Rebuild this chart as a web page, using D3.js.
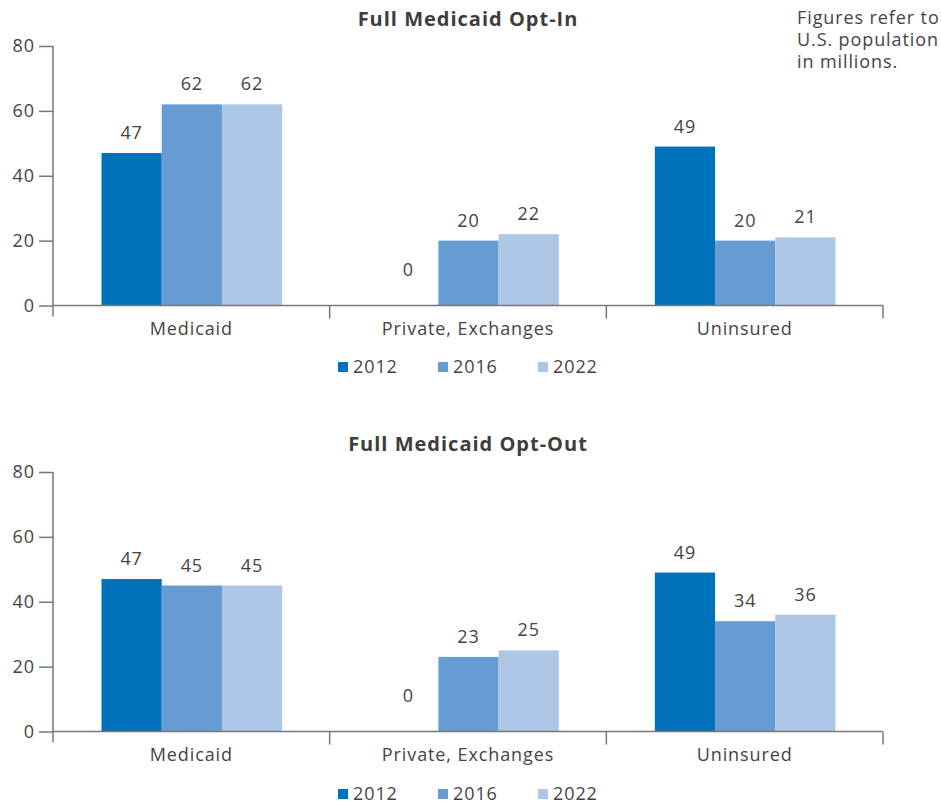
<!DOCTYPE html>
<html>
<head>
<meta charset="utf-8">
<script src="https://cdn.jsdelivr.net/npm/d3@7"></script>
<style>
  body { margin: 0; background: #fff; }
  svg text { font-family: "Open Sans", "Lato", sans-serif; fill: #444; }
</style>
</head>
<body>
<svg id="chart" width="941" height="807"></svg>
<script>
// data
const categories = ["Medicaid", "Private, Exchanges", "Uninsured"];
const years = ["2012", "2016", "2022"];
const colors = ["#0072bc", "#679cd3", "#adc6e6"];
const yTicks = [0, 20, 40, 60, 80];

const optInValues = [
  [47, 62, 62],
  [0, 20, 22],
  [49, 20, 21]
];
const optOutValues = [
  [47, 45, 45],
  [0, 23, 25],
  [49, 34, 36]
];

const panels = [
  { title: "Full Medicaid Opt-In", values: optInValues, top: 46, titleY: 26, legendY: 367 },
  { title: "Full Medicaid Opt-Out", values: optOutValues, top: 472, titleY: 451, legendY: 794 }
];

const svg = d3.select("#chart");
const axisColor = "#777";
const left = 53, right = 883, plotH = 259.5;
const fs = "18px", ls = "0.9px";

const x0 = d3.scaleBand().domain(categories).range([left, right]).paddingInner(0).paddingOuter(0);
const x1 = d3.scaleBand().domain(years).range([48.5, x0.bandwidth() - 47.5]).padding(0);

panels.forEach(p => {
  const g = svg.append("g");
  const y = d3.scaleLinear().domain([0, 80]).range([p.top + plotH, p.top]);

  g.append("text")
    .attr("x", 468).attr("y", p.titleY)
    .attr("text-anchor", "middle")
    .style("font-size", "20px").style("font-weight", "bold")
    .style("letter-spacing", "1px")
    .style("fill", "#3d3d3d")
    .text(p.title);

  // y axis
  const yAxis = g.append("g")
    .attr("transform", `translate(${left},0)`)
    .call(d3.axisLeft(y).tickValues(yTicks).tickSize(14).tickPadding(4));
  yAxis.select(".domain").remove();
  yAxis.selectAll("line").attr("stroke", axisColor).attr("stroke-width", 1.5);
  yAxis.selectAll("text").style("font-size", fs).style("letter-spacing", ls).attr("fill", "#444");
  g.append("line")
    .attr("x1", left).attr("x2", left)
    .attr("y1", y(80)).attr("y2", y(0) + 11)
    .attr("stroke", axisColor).attr("stroke-width", 1.5);

  // bars
  categories.forEach((c, i) => {
    const grp = g.append("g").attr("transform", `translate(${x0(c)},0)`);
    grp.selectAll("rect")
      .data(p.values[i])
      .join("rect")
      .attr("x", (d, j) => x1(years[j]))
      .attr("width", x1.bandwidth())
      .attr("y", d => y(d))
      .attr("height", d => y(0) - y(d))
      .attr("fill", (d, j) => colors[j]);
    grp.selectAll("text")
      .data(p.values[i])
      .join("text")
      .attr("x", (d, j) => x1(years[j]) + x1.bandwidth() / 2)
      .attr("y", d => Math.min(y(d), y(0) - 16) - 14)
      .attr("text-anchor", "middle")
      .style("font-size", fs).style("letter-spacing", ls)
      .text(d => d);
  });

  // x axis
  g.append("line")
    .attr("x1", left).attr("x2", right)
    .attr("y1", y(0)).attr("y2", y(0))
    .attr("stroke", axisColor).attr("stroke-width", 1.5);
  const bounds = [left].concat(categories.map(c => x0(c) + x0.bandwidth()));
  g.selectAll(".xtick")
    .data(bounds.slice(1))
    .join("line")
    .attr("x1", d => d).attr("x2", d => d)
    .attr("y1", y(0)).attr("y2", y(0) + 13)
    .attr("stroke", axisColor).attr("stroke-width", 1.5);
  g.selectAll(".xlabel")
    .data(categories)
    .join("text")
    .attr("x", c => x0(c) + x0.bandwidth() / 2)
    .attr("y", y(0) + 29)
    .attr("text-anchor", "middle")
    .style("font-size", fs).style("letter-spacing", ls)
    .text(c => c);

  // legend
  const lg = g.selectAll(".leg")
    .data(years)
    .join("g")
    .attr("transform", (d, i) => `translate(${338 + i * 100},${p.legendY})`);
  lg.append("rect")
    .attr("x", 0).attr("y", -5).attr("width", 10).attr("height", 10)
    .attr("fill", (d, i) => colors[i]);
  lg.append("text")
    .attr("x", 15).attr("y", 6)
    .style("font-size", fs).style("letter-spacing", ls)
    .text(d => d);
});

// note
const note = ["Figures refer to", "U.S. population", "in millions."];
svg.append("text")
  .attr("x", 797).attr("y", 24)
  .style("font-size", fs).style("letter-spacing", ls)
  .selectAll("tspan")
  .data(note)
  .join("tspan")
  .attr("x", 797)
  .attr("dy", (d, i) => i === 0 ? 0 : 22)
  .text(d => d);
</script>
</body>
</html>
